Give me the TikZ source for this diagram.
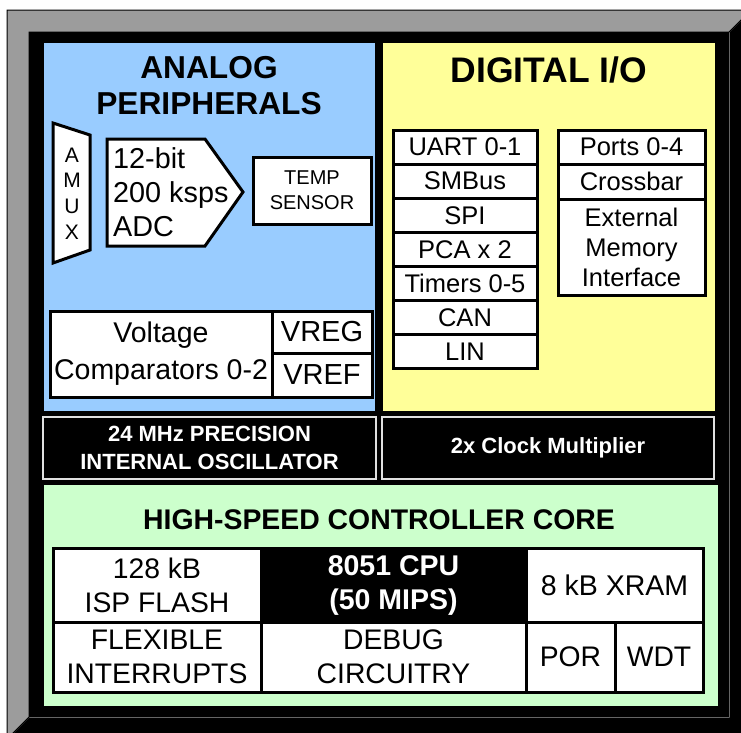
\documentclass[tikz,border=0pt]{standalone}
\usepackage{fontspec}
\setmainfont{Liberation Sans}
\definecolor{ablue}{HTML}{99CCFF}
\definecolor{dyellow}{HTML}{FFFF99}
\definecolor{cgreen}{HTML}{CCFFCC}
\definecolor{fgray}{HTML}{9C9C9C}
\newcommand\fsz[2]{\fontsize{#1}{#2}\selectfont}
\tikzset{
  region/.style={inner sep=0pt, outer sep=0pt, anchor=north west},
  wbox/.style={draw=black, line width=3pt, fill=white, inner sep=0pt, outer sep=0pt, align=center},
  oscbox/.style={draw=white!88!black, fill=black, line width=1.5pt, text=white, inner sep=0pt, outer sep=0pt, align=center, font=\bfseries\fsz{22}{28}},
  ttl/.style={inner sep=0pt, align=center},
  lbl/.style={inner sep=0pt, align=center},
}
\begin{document}
\begin{tikzpicture}[x=1pt, y=-1pt]
\useasboundingbox (0,0) rectangle (741,732);
\clip (0,0) rectangle (741,732);
% frame
\fill[white] (0,0) rectangle (741,732);
\filldraw[fill=black, draw=fgray, line width=1pt] (751,10) -- (751,739) -- (7,739) -- (29,717) -- (729,717) -- (729,32) -- cycle;
\filldraw[fill=fgray, draw=black, line width=1pt] (7,739) -- (7,10) -- (751,10) -- (729,32) -- (29,32) -- (29,717) -- cycle;
\fill[black] (29,32) rectangle (729,717);
% regions
\node[region, fill=ablue, minimum width=331pt, minimum height=368pt] (analog) at (44,43) {};
\node[region, fill=dyellow, minimum width=332pt, minimum height=368pt] (digital) at (383,43) {};
\node[region, fill=cgreen, minimum width=674pt, minimum height=221pt] (core) at (44,485) {};
% analog
\node[ttl, font=\bfseries\fsz{31.7}{36}] (antitle) at (209,86) {ANALOG\\PERIPHERALS};
\draw[wbox] (53,123) -- (90,135) -- (90,250) -- (53,263) -- cycle;
\node[lbl, font=\fsz{21}{25.7}] (amux) at (72,193.5) {A\\M\\U\\X};
\draw[wbox] (107,139) -- (205,139) -- (243,192) -- (205,246) -- (107,246) -- cycle;
\node[lbl, align=left, anchor=west, font=\fsz{28.8}{34}] (adc) at (113,192) {12-bit\\200 ksps\\ADC};
\node[wbox, minimum width=118pt, minimum height=67pt, font=\fsz{20}{25}] (temp) at (312,190.5) {TEMP\\SENSOR};
\node[wbox, minimum width=222pt, minimum height=86pt, font=\fsz{28.5}{37}] (comp) at (161,354) {Voltage\\Comparators 0-2};
\node[wbox, minimum width=100pt, minimum height=42pt, font=\fsz{29}{30}] (vreg) at (322,332) {VREG};
\node[wbox, minimum width=100pt, minimum height=44pt, font=\fsz{29}{30}] (vref) at (322,375) {VREF};
% digital
\node[ttl, font=\bfseries\fsz{35.5}{40}] (dtitle) at (549,70) {DIGITAL I/O};
\foreach \t/\n [count=\i from 0] in {UART 0-1/uart, SMBus/smbus, SPI/spi, PCA x 2/pca, Timers 0-5/timers, CAN/can, LIN/lin}{
  \node[wbox, minimum width=144pt, minimum height=34.14pt, font=\fsz{25.5}{26}] (\n) at (465,{147.07+34.14*\i}) {\t};
}
\node[wbox, minimum width=147pt, minimum height=34pt, font=\fsz{25.5}{26}] (ports) at (631.5,147) {Ports 0-4};
\node[wbox, minimum width=147pt, minimum height=35pt, font=\fsz{25.5}{26}] (xbar) at (631.5,181.5) {Crossbar};
\node[wbox, minimum width=147pt, minimum height=96pt, font=\fsz{25.5}{30}] (emi) at (631.5,247) {External\\Memory\\Interface};
% oscillators
\node[oscbox, minimum width=333pt, minimum height=62pt] (osc) at (209.5,448) {24 MHz PRECISION\\INTERNAL OSCILLATOR};
\node[oscbox, minimum width=332pt, minimum height=62pt] (clkmul) at (548,448) {2x Clock Multiplier};
% core
\node[ttl, font=\bfseries\fsz{28.4}{30}] (ctitle) at (379,520) {HIGH-SPEED CONTROLLER CORE};
\node[wbox, minimum width=208pt, minimum height=74pt, font=\fsz{28.3}{34}] (flash) at (157,585) {128 kB\\ISP FLASH};
\node[wbox, fill=black, text=white, minimum width=265pt, minimum height=74pt, font=\bfseries\fsz{28.5}{34}] (cpu) at (393.5,585) {8051 CPU\\(50 MIPS)};
\node[wbox, minimum width=177pt, minimum height=74pt, font=\fsz{28.5}{34}] (xram) at (614.5,585) {8 kB XRAM};
\node[wbox, minimum width=208pt, minimum height=70pt, font=\fsz{28.3}{34}] (intr) at (157,657) {FLEXIBLE\\INTERRUPTS};
\node[wbox, minimum width=265pt, minimum height=70pt, font=\fsz{28.3}{34}] (debug) at (393.5,657) {DEBUG\\CIRCUITRY};
\node[wbox, minimum width=89pt, minimum height=70pt, font=\fsz{28.3}{34}] (por) at (570.5,657) {POR};
\node[wbox, minimum width=88pt, minimum height=70pt, font=\fsz{28.3}{34}] (wdt) at (659,657) {WDT};
\end{tikzpicture}
\end{document}
